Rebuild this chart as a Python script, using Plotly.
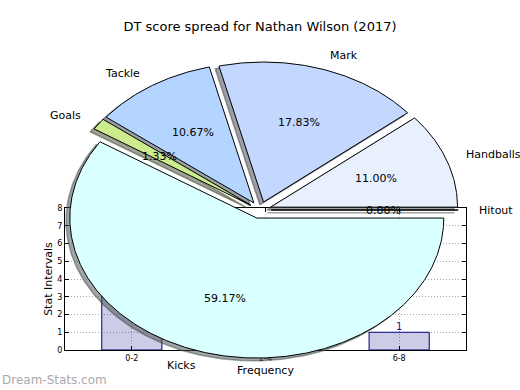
import numpy as np
import plotly.graph_objects as go

# ---- data ----
pie_labels = ["Hitout", "Handballs", "Mark", "Tackle", "Goals", "Kicks"]
pie_pcts = [0.00, 11.00, 17.83, 10.67, 1.33, 59.17]
pie_colors = ["#e0e0e0", "#e8f0fe", "#c4d8ff", "#b3d5ff", "#cceb8c", "#d9ffff"]

bar_bins = ["0-2", "2-4", "6-8"]
bar_counts = [3, 4, 1]

title_text = "DT score spread for Nathan Wilson (2017)"

# ---- style constants ----
W, H = 520, 390
FONT = "DejaVu Sans"
explode = 0.06
rx_px, ry_px = 187.0, 140.0       # pie radius in px (x, y)
cx_px, cy_px = 260.0, 210.0       # pie centre in px (from top-left)

fig = go.Figure()

# ---- background bar chart ----
fig.add_trace(go.Bar(
    x=bar_bins, y=bar_counts, width=0.45,
    marker=dict(color="rgba(0,0,128,0.2)", line=dict(color="navy", width=1)),
    xaxis="x", yaxis="y", showlegend=False, hoverinfo="skip",
))

# ---- pie (elliptical, exploded, with shadows) drawn on overlay axes ----
fracs = np.array(pie_pcts) / np.sum(pie_pcts)
theta1 = 0.0
wedges = []
for lab, frac, col, pct in zip(pie_labels, fracs, pie_colors, pie_pcts):
    theta2 = theta1 + frac * 360.0
    thetam = np.deg2rad((theta1 + theta2) / 2.0)
    cx = explode * np.cos(thetam)
    cy = explode * np.sin(thetam)
    n = max(2, int(abs(theta2 - theta1) * 2) + 2)
    t = np.deg2rad(np.linspace(theta1, theta2, n))
    xs = np.concatenate([[cx], cx + np.cos(t), [cx]])
    ys = np.concatenate([[cy], cy + np.sin(t), [cy]])
    wedges.append((lab, col, pct, thetam, cx, cy, xs, ys))
    theta1 = theta2

def shade(hexcol):
    h = hexcol.lstrip("#")
    r, g, b = (int(h[i:i + 2], 16) for i in (0, 2, 4))
    return "rgba(%d,%d,%d,0.5)" % (r * 0.3, g * 0.3, b * 0.3)

for lab, col, pct, thetam, cx, cy, xs, ys in wedges:
    fig.add_trace(go.Scatter(
        x=xs - 0.02, y=ys - 0.02, mode="lines", fill="toself",
        fillcolor=shade(col), line=dict(color=shade(col), width=1.5),
        xaxis="x2", yaxis="y2", showlegend=False, hoverinfo="skip",
    ))
for lab, col, pct, thetam, cx, cy, xs, ys in wedges:
    fig.add_trace(go.Scatter(
        x=xs, y=ys, mode="lines", fill="toself", fillcolor=col,
        line=dict(color="black", width=1),
        xaxis="x2", yaxis="y2", showlegend=False, hoverinfo="skip",
    ))

annotations = []
# bar value labels (drawn under the pie in the reference, only visible where uncovered)
for b, v in zip(bar_bins, bar_counts):
    annotations.append(dict(
        x=b, y=v, xref="x", yref="y", text=str(v), showarrow=False,
        xanchor="center", yanchor="bottom", yshift=-2,
        font=dict(family=FONT, size=10, color="#1a1aa0"),
    ))
# hide labels of bars that are covered by the pie: only the last one is visible
annotations = [a for a in annotations if a["x"] == bar_bins[-1]]

for lab, col, pct, thetam, cx, cy, xs, ys in wedges:
    lx = cx + 1.1 * np.cos(thetam)
    ly = cy + 1.1 * np.sin(thetam)
    annotations.append(dict(
        x=lx, y=ly, xref="x2", yref="y2", text=lab, showarrow=False,
        xanchor="left" if lx > 0 else "right", yanchor="middle",
        font=dict(family=FONT, size=11, color="black"),
    ))
    px = cx + 0.6 * np.cos(thetam)
    py = cy + 0.6 * np.sin(thetam)
    annotations.append(dict(
        x=px, y=py, xref="x2", yref="y2", text="%.2f%%" % pct, showarrow=False,
        xanchor="center", yanchor="middle",
        font=dict(family=FONT, size=11, color="black"),
    ))

annotations.append(dict(
    x=0.0, y=10 / H, xref="paper", yref="paper", text="Dream-Stats.com",
    showarrow=False, xanchor="left", yanchor="middle",
    font=dict(family=FONT, size=12, color="#aaaaaa"),
))

grid_style = dict(showgrid=True, gridcolor="#a8a8a8", griddash="1px,2px", gridwidth=1)

fig.update_layout(
    width=W, height=H,
    margin=dict(l=0, r=0, t=0, b=0),
    paper_bgcolor="white", plot_bgcolor="rgba(0,0,0,0)",
    font=dict(family=FONT, size=11, color="black"),
    title=dict(text=title_text, x=0.5, xanchor="center", y=1 - 26 / H,
               yanchor="middle", font=dict(family=FONT, size=13, color="black")),
    xaxis=dict(
        domain=[65 / W, 466 / W], range=[-0.5, 2.5], type="category",
        showline=True, linecolor="black", linewidth=1, mirror="ticks",
        ticks="inside", ticklen=4, tickcolor="black",
        tickfont=dict(family=FONT, size=8), layer="above traces", zeroline=False,
        title=dict(text="Frequency", font=dict(family=FONT, size=11), standoff=4),
        fixedrange=True, automargin=False, **grid_style,
    ),
    yaxis=dict(
        domain=[(H - 350) / H, (H - 208) / H], range=[0, 8], dtick=1,
        showline=True, linecolor="black", linewidth=1, mirror="ticks",
        ticks="inside", ticklen=4, tickcolor="black",
        tickfont=dict(family=FONT, size=8), layer="above traces", zeroline=False,
        title=dict(text="Stat Intervals", font=dict(family=FONT, size=11), standoff=2),
        fixedrange=True, automargin=False, **grid_style,
    ),
    xaxis2=dict(
        domain=[0, 1], anchor="y2",
        range=[-cx_px / rx_px, (W - cx_px) / rx_px],
        visible=False, fixedrange=True,
    ),
    yaxis2=dict(
        domain=[0, 1], anchor="x2",
        range=[-(H - cy_px) / ry_px, cy_px / ry_px],
        visible=False, fixedrange=True,
    ),
    annotations=annotations,
    showlegend=False,
)

fig.write_html("out.html", config={"displayModeBar": False},
               post_script="document.body.style.margin='0';document.body.style.padding='0';")
